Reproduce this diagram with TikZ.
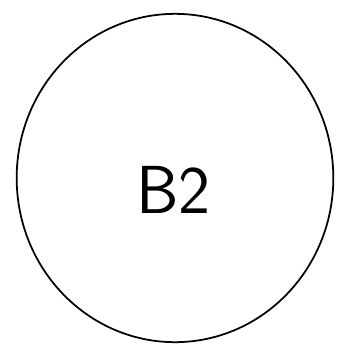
\documentclass[tikz,border=0pt]{standalone}
\usepackage{tikz}
\usetikzlibrary{shapes.geometric}
\tikzset{
    % hand drawn ring with its name
    ring/.style={
        ellipse,
        draw=black,
        line width=1.5pt,
        minimum width=9.5cm,
        minimum height=9.85cm,
        inner sep=0pt
    },
    ring label/.style={
        draw=none,
        font=\fontsize{58}{66}\selectfont\sffamily
    }
}
\begin{document}
\begin{tikzpicture}
    \useasboundingbox (0,0) rectangle (10.23,-10.32);
    \node[ring] (b2ring) at (5.25,-5.34) {};
    \node[ring label] (b2label) at (5.2,-5.7) {B2};
\end{tikzpicture}
\end{document}
